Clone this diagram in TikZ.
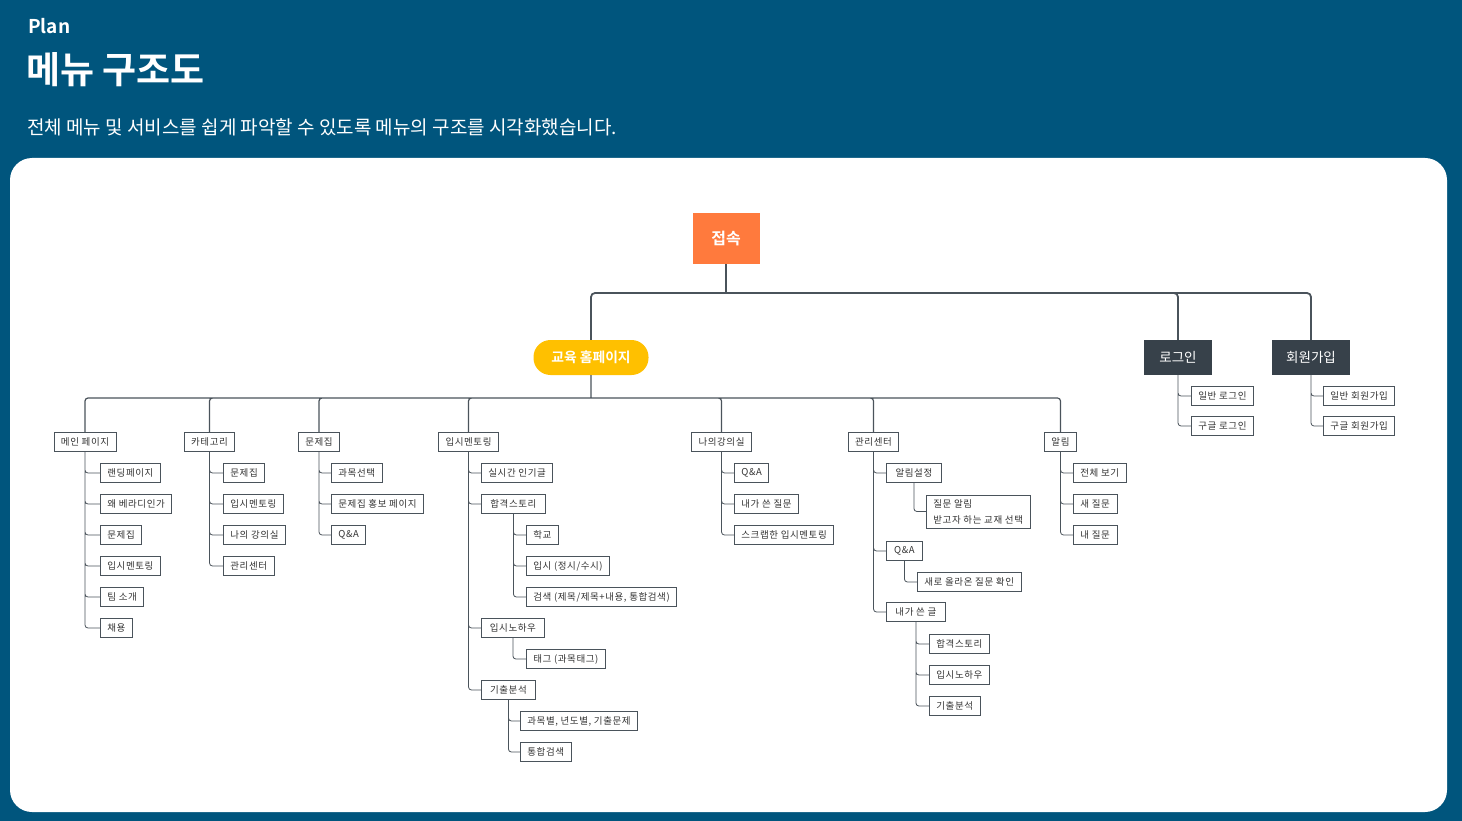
\documentclass[tikz,border=0pt]{standalone}
\usepackage{fontspec}
\setmainfont{Noto Sans CJK KR}[BoldFont={Noto Sans CJK KR Bold}]
\newfontfamily\boxfont{Noto Sans CJK KR}[LetterSpace=6]
\usetikzlibrary{positioning}
\definecolor{pagebg}{HTML}{00557D}
\definecolor{linegray}{HTML}{4A535B}
\definecolor{rootorange}{HTML}{FF7A3D}
\definecolor{homeyellow}{HTML}{FFC000}
\definecolor{darkbox}{HTML}{37414A}

\begin{document}
\begin{tikzpicture}[x=1pt,y=-1pt,
  menu node/.style={draw=linegray,line width=0.8pt,fill=white,text=black!80,font=\boxfont\fontsize{9.5}{12}\selectfont,inner xsep=7pt,inner ysep=0pt,minimum height=19pt},
  sub node/.style={menu node,anchor=west},
  top node/.style={fill=darkbox,text=white,font=\fontsize{13.5}{16}\selectfont,minimum height=35pt,inner xsep=8pt},
  link/.style={draw=linegray,line width=0.8pt,rounded corners=3pt},
  trunk/.style={draw=linegray,line width=1.8pt,rounded corners=4pt}]

  % page and header
  \useasboundingbox (0,0) rectangle (1462,821);
  \fill[pagebg] (0,0) rectangle (1462,821);
  \fill[white,rounded corners=22pt] (10,158) rectangle (1447,812);
  \node[anchor=west,inner sep=0pt,text=white,font=\bfseries\fontsize{19}{22}\selectfont] (plan) at (28,26) {Plan};
  \node[anchor=west,inner sep=0pt,text=white,font=\bfseries\fontsize{37}{42}\selectfont] (title) at (26,70) {메뉴 구조도};
  \node[anchor=west,inner sep=0pt,text=white,font=\fontsize{19}{22}\selectfont] (subtitle) at (27,127) {전체 메뉴 및 서비스를 쉽게 파악할 수 있도록 메뉴의 구조를 시각화했습니다.};

  % top levels
  \node[fill=rootorange,text=white,font=\bfseries\fontsize{16}{18}\selectfont,minimum width=67pt,minimum height=51pt] (root) at (726,238.5) {접속};
  \node[fill=homeyellow,text=white,font=\bfseries\fontsize{13.8}{16}\selectfont,rounded corners=17pt,minimum width=115pt,minimum height=35pt] (edu) at (591,357.5) {교육 홈페이지};
  \node[top node,minimum width=68pt] (login) at (1178,357.5) {로그인};
  \node[top node,minimum width=78pt] (join) at (1311,357.5) {회원가입};

  \coordinate (bus1) at (726,293);
  \coordinate (bus2) at (591,398);

  % second level
  \node[menu node] (main) at (85,442) {메인 페이지};
  \node[menu node] (cat) at (209.5,442) {카테고리};
  \node[menu node] (book) at (319,442) {문제집};
  \node[menu node] (mentor) at (468.5,442) {입시멘토링};
  \node[menu node] (room) at (721.5,442) {나의강의실};
  \node[menu node] (admin) at (873.5,442) {관리센터};
  \node[menu node] (alarm) at (1060.5,442) {알림};

  % main page
  \node[sub node] (m1) at (100,473) {랜딩페이지};
  \node[sub node] (m2) at (100,504) {왜 베라디인가};
  \node[sub node] (m3) at (100,535) {문제집};
  \node[sub node] (m4) at (100,566) {입시멘토링};
  \node[sub node] (m5) at (100,597) {팀 소개};
  \node[sub node] (m6) at (100,628) {채용};

  % category
  \node[sub node] (c1) at (223,473) {문제집};
  \node[sub node] (c2) at (223,504) {입시멘토링};
  \node[sub node] (c3) at (223,535) {나의 강의실};
  \node[sub node] (c4) at (223,566) {관리센터};

  % workbook
  \node[sub node] (b1) at (331,473) {과목선택};
  \node[sub node] (b2) at (331,504) {문제집 홍보 페이지};
  \node[sub node] (b3) at (331,535) {Q\&A};

  % mentoring
  \node[sub node] (e1) at (481,473) {실시간 인기글};
  \node[sub node,minimum width=64pt] (e2) at (481,504) {합격스토리};
  \node[sub node] (e21) at (526,535) {학교};
  \node[sub node] (e22) at (526,566) {입시 (정시/수시)};
  \node[sub node] (e23) at (526,597) {검색 (제목/제목+내용, 통합검색)};
  \node[sub node,minimum width=63pt] (e3) at (481,628) {입시노하우};
  \node[sub node] (e31) at (526,659) {태그 (과목태그)};
  \node[sub node,minimum width=54pt] (e4) at (481,690) {기출분석};
  \node[sub node] (e41) at (520,721) {과목별, 년도별, 기출문제};
  \node[sub node] (e42) at (520,752) {통합검색};

  % my classroom
  \node[sub node] (r1) at (734,473) {Q\&A};
  \node[sub node] (r2) at (734,504) {내가 쓴 질문};
  \node[sub node] (r3) at (734,535) {스크랩한 입시멘토링};

  % admin center
  \node[sub node,minimum width=55pt] (a1) at (886,473) {알림설정};
  \node[sub node,align=left,minimum height=33pt,font=\boxfont\fontsize{9.5}{16}\selectfont] (a11) at (926,511.5) {질문 알림\\받고자 하는 교재 선택};
  \node[sub node,minimum width=36pt] (a2) at (886,551) {Q\&A};
  \node[sub node] (a21) at (917,582) {새로 올라온 질문 확인};
  \node[sub node,minimum width=59pt] (a3) at (886,612) {내가 쓴 글};
  \node[sub node] (a31) at (929,644) {합격스토리};
  \node[sub node] (a32) at (929,675) {입시노하우};
  \node[sub node] (a33) at (929,706) {기출분석};

  % alarm
  \node[sub node] (n1) at (1073,473) {전체 보기};
  \node[sub node] (n2) at (1073,504) {새 질문};
  \node[sub node] (n3) at (1073,535) {내 질문};

  % login and join
  \node[sub node] (l1) at (1191,396) {일반 로그인};
  \node[sub node] (l2) at (1191,426) {구글 로그인};
  \node[sub node] (j1) at (1323,396) {일반 회원가입};
  \node[sub node] (j2) at (1323,426) {구글 회원가입};

  % trunks
  \draw[trunk,line width=2.4pt] (root.south) -- (bus1);
  \draw[trunk] (bus1) -| (edu.north)
               (bus1) -| (login.north)
               (bus1) -| (join.north);
  \draw[link,line width=1.2pt] (edu.south) -- (bus2)
               (bus2) -| (main.north)
               (bus2) -| (cat.north)
               (bus2) -| (book.north)
               (bus2) -| (mentor.north)
               (bus2) -| (room.north)
               (bus2) -| (admin.north)
               (bus2) -| (alarm.north);

  % branches
  \draw[link]
    (main.south) |- (m1.west) (main.south) |- (m2.west) (main.south) |- (m3.west)
    (main.south) |- (m4.west) (main.south) |- (m5.west) (main.south) |- (m6.west)
    (cat.south) |- (c1.west) (cat.south) |- (c2.west) (cat.south) |- (c3.west) (cat.south) |- (c4.west)
    (book.south) |- (b1.west) (book.south) |- (b2.west) (book.south) |- (b3.west)
    (mentor.south) |- (e1.west) (mentor.south) |- (e2.west) (mentor.south) |- (e3.west) (mentor.south) |- (e4.west)
    (e2.south) |- (e21.west) (e2.south) |- (e22.west) (e2.south) |- (e23.west)
    (e3.south) |- (e31.west)
    (e4.south) |- (e41.west) (e4.south) |- (e42.west)
    (room.south) |- (r1.west) (room.south) |- (r2.west) (room.south) |- (r3.west)
    (admin.south) |- (a1.west) (admin.south) |- (a2.west) (admin.south) |- (a3.west)
    (a1.south) |- (a11.west)
    (a2.south) |- (a21.west)
    (a3.south) |- (a31.west) (a3.south) |- (a32.west) (a3.south) |- (a33.west)
    (alarm.south) |- (n1.west) (alarm.south) |- (n2.west) (alarm.south) |- (n3.west)
    (login.south) |- (l1.west) (login.south) |- (l2.west)
    (join.south) |- (j1.west) (join.south) |- (j2.west);
\end{tikzpicture}
\end{document}
